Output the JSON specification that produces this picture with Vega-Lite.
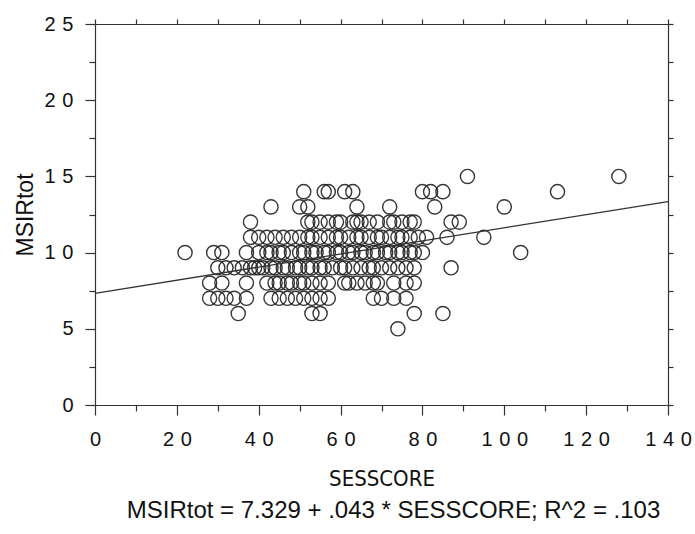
{
  "$schema": "https://vega.github.io/schema/vega-lite/v6.json",
  "width": 573,
  "height": 381,
  "autosize": {"type": "none"},
  "padding": {"left": 95, "top": 24, "right": 27, "bottom": 129},
  "background": "white",
  "config": {
    "view": {"stroke": null},
    "font": "Liberation Sans",
    "axis": {
      "domainColor": "#333",
      "domainWidth": 1.2,
      "tickColor": "#333",
      "tickWidth": 1.2,
      "labelColor": "#111",
      "titleColor": "#111",
      "grid": false,
      "labelFont": "Liberation Sans",
      "titleFont": "Liberation Sans",
      "titleFontWeight": "normal"
    }
  },
  "title": {
    "text": "MSIRtot = 7.329 + .043 * SESSCORE; R^2 = .103",
    "orient": "bottom",
    "anchor": "middle",
    "font": "Liberation Sans",
    "fontSize": 24,
    "fontWeight": "normal",
    "color": "#111",
    "offset": 10,
    "dx": 12
  },
  "layer": [
    {
      "data": {
        "values": [
          {"SESSCORE": 91, "MSIRtot": 15}, {"SESSCORE": 128, "MSIRtot": 15},
          {"SESSCORE": 51, "MSIRtot": 14}, {"SESSCORE": 56, "MSIRtot": 14}, {"SESSCORE": 57, "MSIRtot": 14}, {"SESSCORE": 61, "MSIRtot": 14}, {"SESSCORE": 63, "MSIRtot": 14}, {"SESSCORE": 80, "MSIRtot": 14}, {"SESSCORE": 82, "MSIRtot": 14}, {"SESSCORE": 85, "MSIRtot": 14}, {"SESSCORE": 113, "MSIRtot": 14},
          {"SESSCORE": 43, "MSIRtot": 13}, {"SESSCORE": 50, "MSIRtot": 13}, {"SESSCORE": 52, "MSIRtot": 13}, {"SESSCORE": 64, "MSIRtot": 13}, {"SESSCORE": 72, "MSIRtot": 13}, {"SESSCORE": 83, "MSIRtot": 13}, {"SESSCORE": 100, "MSIRtot": 13},
          {"SESSCORE": 38, "MSIRtot": 12}, {"SESSCORE": 52, "MSIRtot": 12}, {"SESSCORE": 53, "MSIRtot": 12}, {"SESSCORE": 55, "MSIRtot": 12}, {"SESSCORE": 57, "MSIRtot": 12}, {"SESSCORE": 59, "MSIRtot": 12}, {"SESSCORE": 60, "MSIRtot": 12}, {"SESSCORE": 63, "MSIRtot": 12}, {"SESSCORE": 64, "MSIRtot": 12}, {"SESSCORE": 65, "MSIRtot": 12}, {"SESSCORE": 67, "MSIRtot": 12}, {"SESSCORE": 69, "MSIRtot": 12}, {"SESSCORE": 72, "MSIRtot": 12}, {"SESSCORE": 73, "MSIRtot": 12}, {"SESSCORE": 75, "MSIRtot": 12}, {"SESSCORE": 77, "MSIRtot": 12}, {"SESSCORE": 78, "MSIRtot": 12}, {"SESSCORE": 87, "MSIRtot": 12}, {"SESSCORE": 89, "MSIRtot": 12},
          {"SESSCORE": 38, "MSIRtot": 11}, {"SESSCORE": 40, "MSIRtot": 11}, {"SESSCORE": 42, "MSIRtot": 11}, {"SESSCORE": 44, "MSIRtot": 11}, {"SESSCORE": 46, "MSIRtot": 11}, {"SESSCORE": 48, "MSIRtot": 11}, {"SESSCORE": 50, "MSIRtot": 11}, {"SESSCORE": 52, "MSIRtot": 11}, {"SESSCORE": 53, "MSIRtot": 11}, {"SESSCORE": 55, "MSIRtot": 11}, {"SESSCORE": 57, "MSIRtot": 11}, {"SESSCORE": 59, "MSIRtot": 11}, {"SESSCORE": 60, "MSIRtot": 11}, {"SESSCORE": 62, "MSIRtot": 11}, {"SESSCORE": 64, "MSIRtot": 11}, {"SESSCORE": 65, "MSIRtot": 11}, {"SESSCORE": 67, "MSIRtot": 11}, {"SESSCORE": 69, "MSIRtot": 11}, {"SESSCORE": 70, "MSIRtot": 11}, {"SESSCORE": 72, "MSIRtot": 11}, {"SESSCORE": 74, "MSIRtot": 11}, {"SESSCORE": 75, "MSIRtot": 11}, {"SESSCORE": 77, "MSIRtot": 11}, {"SESSCORE": 79, "MSIRtot": 11}, {"SESSCORE": 81, "MSIRtot": 11}, {"SESSCORE": 86, "MSIRtot": 11}, {"SESSCORE": 95, "MSIRtot": 11},
          {"SESSCORE": 22, "MSIRtot": 10}, {"SESSCORE": 29, "MSIRtot": 10}, {"SESSCORE": 31, "MSIRtot": 10}, {"SESSCORE": 37, "MSIRtot": 10}, {"SESSCORE": 40, "MSIRtot": 10}, {"SESSCORE": 42, "MSIRtot": 10}, {"SESSCORE": 43, "MSIRtot": 10}, {"SESSCORE": 45, "MSIRtot": 10}, {"SESSCORE": 46, "MSIRtot": 10}, {"SESSCORE": 48, "MSIRtot": 10}, {"SESSCORE": 50, "MSIRtot": 10}, {"SESSCORE": 51, "MSIRtot": 10}, {"SESSCORE": 53, "MSIRtot": 10}, {"SESSCORE": 54, "MSIRtot": 10}, {"SESSCORE": 56, "MSIRtot": 10}, {"SESSCORE": 57, "MSIRtot": 10}, {"SESSCORE": 59, "MSIRtot": 10}, {"SESSCORE": 60, "MSIRtot": 10}, {"SESSCORE": 62, "MSIRtot": 10}, {"SESSCORE": 63, "MSIRtot": 10}, {"SESSCORE": 65, "MSIRtot": 10}, {"SESSCORE": 66, "MSIRtot": 10}, {"SESSCORE": 68, "MSIRtot": 10}, {"SESSCORE": 69, "MSIRtot": 10}, {"SESSCORE": 71, "MSIRtot": 10}, {"SESSCORE": 72, "MSIRtot": 10}, {"SESSCORE": 74, "MSIRtot": 10}, {"SESSCORE": 75, "MSIRtot": 10}, {"SESSCORE": 77, "MSIRtot": 10}, {"SESSCORE": 78, "MSIRtot": 10}, {"SESSCORE": 80, "MSIRtot": 10}, {"SESSCORE": 104, "MSIRtot": 10},
          {"SESSCORE": 30, "MSIRtot": 9}, {"SESSCORE": 32, "MSIRtot": 9}, {"SESSCORE": 34, "MSIRtot": 9}, {"SESSCORE": 36, "MSIRtot": 9}, {"SESSCORE": 38, "MSIRtot": 9}, {"SESSCORE": 39, "MSIRtot": 9}, {"SESSCORE": 40, "MSIRtot": 9}, {"SESSCORE": 41, "MSIRtot": 9}, {"SESSCORE": 43, "MSIRtot": 9}, {"SESSCORE": 44, "MSIRtot": 9}, {"SESSCORE": 46, "MSIRtot": 9}, {"SESSCORE": 47, "MSIRtot": 9}, {"SESSCORE": 49, "MSIRtot": 9}, {"SESSCORE": 50, "MSIRtot": 9}, {"SESSCORE": 52, "MSIRtot": 9}, {"SESSCORE": 53, "MSIRtot": 9}, {"SESSCORE": 55, "MSIRtot": 9}, {"SESSCORE": 56, "MSIRtot": 9}, {"SESSCORE": 58, "MSIRtot": 9}, {"SESSCORE": 60, "MSIRtot": 9}, {"SESSCORE": 61, "MSIRtot": 9}, {"SESSCORE": 63, "MSIRtot": 9}, {"SESSCORE": 65, "MSIRtot": 9}, {"SESSCORE": 67, "MSIRtot": 9}, {"SESSCORE": 68, "MSIRtot": 9}, {"SESSCORE": 70, "MSIRtot": 9}, {"SESSCORE": 72, "MSIRtot": 9}, {"SESSCORE": 74, "MSIRtot": 9}, {"SESSCORE": 76, "MSIRtot": 9}, {"SESSCORE": 78, "MSIRtot": 9}, {"SESSCORE": 87, "MSIRtot": 9},
          {"SESSCORE": 28, "MSIRtot": 8}, {"SESSCORE": 31, "MSIRtot": 8}, {"SESSCORE": 37, "MSIRtot": 8}, {"SESSCORE": 42, "MSIRtot": 8}, {"SESSCORE": 44, "MSIRtot": 8}, {"SESSCORE": 45, "MSIRtot": 8}, {"SESSCORE": 47, "MSIRtot": 8}, {"SESSCORE": 48, "MSIRtot": 8}, {"SESSCORE": 50, "MSIRtot": 8}, {"SESSCORE": 51, "MSIRtot": 8}, {"SESSCORE": 53, "MSIRtot": 8}, {"SESSCORE": 55, "MSIRtot": 8}, {"SESSCORE": 57, "MSIRtot": 8}, {"SESSCORE": 61, "MSIRtot": 8}, {"SESSCORE": 62, "MSIRtot": 8}, {"SESSCORE": 64, "MSIRtot": 8}, {"SESSCORE": 66, "MSIRtot": 8}, {"SESSCORE": 68, "MSIRtot": 8}, {"SESSCORE": 69, "MSIRtot": 8}, {"SESSCORE": 73, "MSIRtot": 8}, {"SESSCORE": 76, "MSIRtot": 8}, {"SESSCORE": 78, "MSIRtot": 8},
          {"SESSCORE": 28, "MSIRtot": 7}, {"SESSCORE": 30, "MSIRtot": 7}, {"SESSCORE": 32, "MSIRtot": 7}, {"SESSCORE": 34, "MSIRtot": 7}, {"SESSCORE": 37, "MSIRtot": 7}, {"SESSCORE": 43, "MSIRtot": 7}, {"SESSCORE": 45, "MSIRtot": 7}, {"SESSCORE": 47, "MSIRtot": 7}, {"SESSCORE": 49, "MSIRtot": 7}, {"SESSCORE": 51, "MSIRtot": 7}, {"SESSCORE": 53, "MSIRtot": 7}, {"SESSCORE": 55, "MSIRtot": 7}, {"SESSCORE": 57, "MSIRtot": 7}, {"SESSCORE": 68, "MSIRtot": 7}, {"SESSCORE": 70, "MSIRtot": 7}, {"SESSCORE": 73, "MSIRtot": 7}, {"SESSCORE": 76, "MSIRtot": 7},
          {"SESSCORE": 35, "MSIRtot": 6}, {"SESSCORE": 53, "MSIRtot": 6}, {"SESSCORE": 55, "MSIRtot": 6}, {"SESSCORE": 78, "MSIRtot": 6}, {"SESSCORE": 85, "MSIRtot": 6},
          {"SESSCORE": 74, "MSIRtot": 5}
        ]
      },
      "mark": {"type": "point", "shape": "circle", "filled": false, "size": 200, "stroke": "#222", "strokeWidth": 1.4, "opacity": 0.9},
      "encoding": {
        "x": {
          "field": "SESSCORE",
          "type": "quantitative",
          "scale": {"domain": [0, 140], "nice": false, "zero": false},
          "axis": {
            "orient": "bottom",
            "title": "SESSCORE",
            "titleFont": "DejaVu Sans Condensed, Liberation Sans, sans-serif",
            "titleFontSize": 22,
            "titleBaseline": "middle",
            "titleY": 73,
            "values": [0, 10, 20, 30, 40, 50, 60, 70, 80, 90, 100, 110, 120, 130, 140],
            "labelExpr": "datum.value % 20 === 0 ? join(split(datum.label, ''), '\u2004') : ''",
            "labelFontSize": 20,
            "labelPadding": 14,
            "labelFlush": false,
            "tickSize": {"condition": {"test": "datum.value % 20 === 0", "value": 10}, "value": 6}
          }
        },
        "y": {
          "field": "MSIRtot",
          "type": "quantitative",
          "scale": {"domain": [0, 25], "nice": false, "zero": false},
          "axis": {
            "orient": "left",
            "title": "MSIRtot",
            "titleFontSize": 23,
            "titleBaseline": "middle",
            "titleX": -70,
            "values": [0, 2.5, 5, 7.5, 10, 12.5, 15, 17.5, 20, 22.5, 25],
            "labelExpr": "datum.value % 5 === 0 ? join(split(datum.label, ''), '\u2004') : ''",
            "labelFontSize": 20,
            "labelPadding": 12,
            "labelFlush": false,
            "tickSize": {"condition": {"test": "datum.value % 5 === 0", "value": 10}, "value": 6}
          }
        }
      }
    },
    {
      "data": {"values": [{"SESSCORE": 0, "MSIRtot": 7.329}, {"SESSCORE": 140, "MSIRtot": 13.349}]},
      "mark": {"type": "line", "color": "#333", "strokeWidth": 1.3},
      "encoding": {
        "x": {
          "field": "SESSCORE",
          "type": "quantitative",
          "scale": {"domain": [0, 140], "nice": false, "zero": false},
          "axis": {"orient": "top", "title": null, "labels": false, "values": [0, 10, 20, 30, 40, 50, 60, 70, 80, 90, 100, 110, 120, 130, 140], "tickSize": 5}
        },
        "y": {
          "field": "MSIRtot",
          "type": "quantitative",
          "scale": {"domain": [0, 25], "nice": false, "zero": false},
          "axis": {"orient": "right", "title": null, "labels": false, "values": [0, 2.5, 5, 7.5, 10, 12.5, 15, 17.5, 20, 22.5, 25], "tickSize": 5}
        }
      }
    }
  ],
  "resolve": {"axis": {"x": "independent", "y": "independent"}}
}
